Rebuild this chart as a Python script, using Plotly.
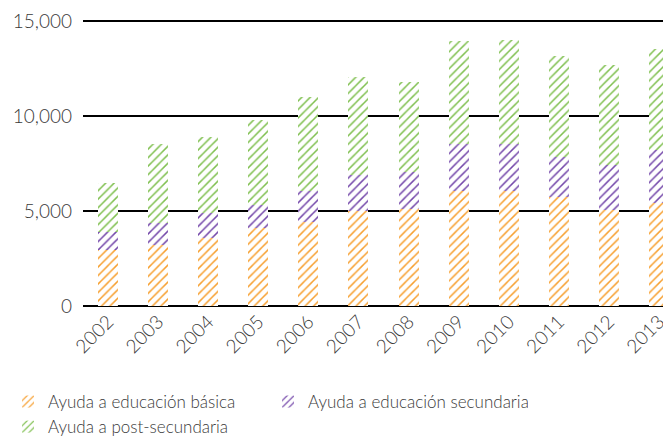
import plotly.graph_objects as go

years = ["2002", "2003", "2004", "2005", "2006", "2007", "2008", "2009", "2010", "2011", "2012", "2013"]
basica = [2950, 3210, 3560, 4090, 4440, 5020, 5090, 6070, 6070, 5750, 5050, 5400]
secundaria = [960, 1140, 1320, 1230, 1610, 1870, 1950, 2440, 2440, 2110, 2370, 2810]
post = [2580, 4180, 4010, 4470, 4930, 5180, 4770, 5440, 5490, 5300, 5260, 5300]

series = [
    ("Ayuda a educación básica", basica, "#F7A030"),
    ("Ayuda a educación secundaria", secundaria, "#7448AA"),
    ("Ayuda a post-secundaria", post, "#80C050"),
]

fig = go.Figure()
for name, vals, col in series:
    fig.add_trace(go.Bar(
        x=years, y=vals, name=name,
        marker=dict(color=col, line=dict(width=0),
                    pattern=dict(shape="/", fgcolor=col, bgcolor="white", fgopacity=1,
                                 size=6, solidity=0.25, fillmode="overlay")),
    ))

font_family = "Lato, 'Open Sans', sans-serif"
fig.update_layout(
    barmode="stack",
    bargap=0.6,
    width=663, height=437,
    margin=dict(l=75, r=0, t=11, b=139),
    plot_bgcolor="white", paper_bgcolor="white",
    font=dict(family=font_family, color="#3a3a3a", size=18, weight=300),
    xaxis=dict(range=[-0.5, 11.24], tickangle=-45, showgrid=False, ticks="",
               tickfont=dict(size=19), showline=False, zeroline=False,
               automargin=False),
    yaxis=dict(range=[0, 15100], tickvals=[0, 5000, 10000, 15000],
               ticktext=["0", "5,000", "10,000", "15,000"],
               showgrid=True, gridcolor="black", gridwidth=1.5,
               zeroline=True, zerolinecolor="black", zerolinewidth=1.5,
               tickfont=dict(size=19), ticks="", ticklabelstandoff=10,
               automargin=False),
    legend=dict(orientation="h", xref="container", yref="container",
                x=0.0, y=0.0, yanchor="bottom", xanchor="left",
                font=dict(size=17), traceorder="normal", itemwidth=30,
                entrywidth=215, entrywidthmode="pixels"),
    showlegend=True,
)

fig.write_html("out.html")
